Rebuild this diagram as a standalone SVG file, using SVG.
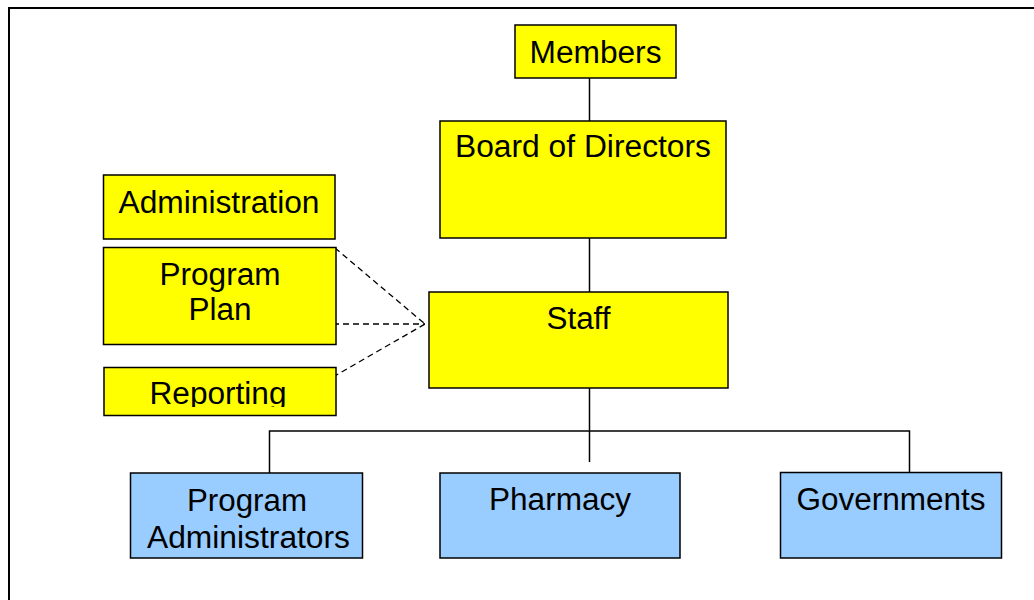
<svg xmlns="http://www.w3.org/2000/svg" width="1034" height="600" viewBox="0 0 1034 600">
<defs>
<style>
.y{fill:#FFFF00;stroke:#000;stroke-width:1.5}
.b{fill:#99CCFF;stroke:#000;stroke-width:1.5}
.t{font-family:"Liberation Sans",Arial,sans-serif;font-size:31px;fill:#000;text-anchor:middle}
.c{stroke:#000;stroke-width:1.5;fill:none}
.d{stroke:#000;stroke-width:1.3;fill:none;stroke-dasharray:6,4}
</style>
<clipPath id="repclip"><rect x="104" y="367" width="232" height="40"/></clipPath>
</defs>
<rect width="1034" height="600" fill="#fff"/>
<path d="M9,600 V8 H1034" fill="none" stroke="#000" stroke-width="2"/>
<g id="connectors">
<line class="c" x1="589.5" y1="78" x2="589.5" y2="121"/>
<line class="c" x1="589.5" y1="238" x2="589.5" y2="292"/>
<line class="c" x1="589.5" y1="388" x2="589.5" y2="462"/>
<polyline class="c" points="269.5,473 269.5,431 909.5,431 909.5,473"/>
<line class="d" x1="335" y1="248" x2="425" y2="324"/>
<line class="d" x1="333" y1="324" x2="425" y2="324"/>
<line class="d" x1="333" y1="377" x2="425" y2="324"/>
</g>
<g id="members"><rect class="y" x="515" y="25" width="161" height="53"/><text class="t" x="595.5" y="63" textLength="132" lengthAdjust="spacingAndGlyphs">Members</text></g>
<g id="board"><rect class="y" x="440" y="121" width="286" height="117"/><text class="t" x="583" y="157" textLength="256" lengthAdjust="spacingAndGlyphs">Board of Directors</text></g>
<g id="staff"><rect class="y" x="429" y="292" width="299" height="96"/><text class="t" x="578.5" y="329" textLength="64" lengthAdjust="spacingAndGlyphs">Staff</text></g>
<g id="administration"><rect class="y" x="103.5" y="175" width="231.5" height="64"/><text class="t" x="219" y="213" textLength="201" lengthAdjust="spacingAndGlyphs">Administration</text></g>
<g id="programplan"><rect class="y" x="103.5" y="247.5" width="232.5" height="97"/><text class="t" x="220" y="285" textLength="121" lengthAdjust="spacingAndGlyphs">Program</text><text class="t" x="220" y="320" textLength="63" lengthAdjust="spacingAndGlyphs">Plan</text></g>
<g id="reporting"><rect class="y" x="104" y="367.5" width="232" height="48"/><text class="t" x="218" y="404" clip-path="url(#repclip)" textLength="137" lengthAdjust="spacingAndGlyphs">Reporting</text></g>
<g id="programadmins"><rect class="b" x="130.5" y="473" width="232" height="85"/><text class="t" x="247" y="511" textLength="120" lengthAdjust="spacingAndGlyphs">Program</text><text class="t" x="248.5" y="548" textLength="203" lengthAdjust="spacingAndGlyphs">Administrators</text></g>
<g id="pharmacy"><rect class="b" x="440" y="473" width="240" height="85"/><text class="t" x="560" y="510" textLength="142" lengthAdjust="spacingAndGlyphs">Pharmacy</text></g>
<g id="governments"><rect class="b" x="780.5" y="472.5" width="221" height="85.5"/><text class="t" x="891" y="510" textLength="189" lengthAdjust="spacingAndGlyphs">Governments</text></g>
</svg>
